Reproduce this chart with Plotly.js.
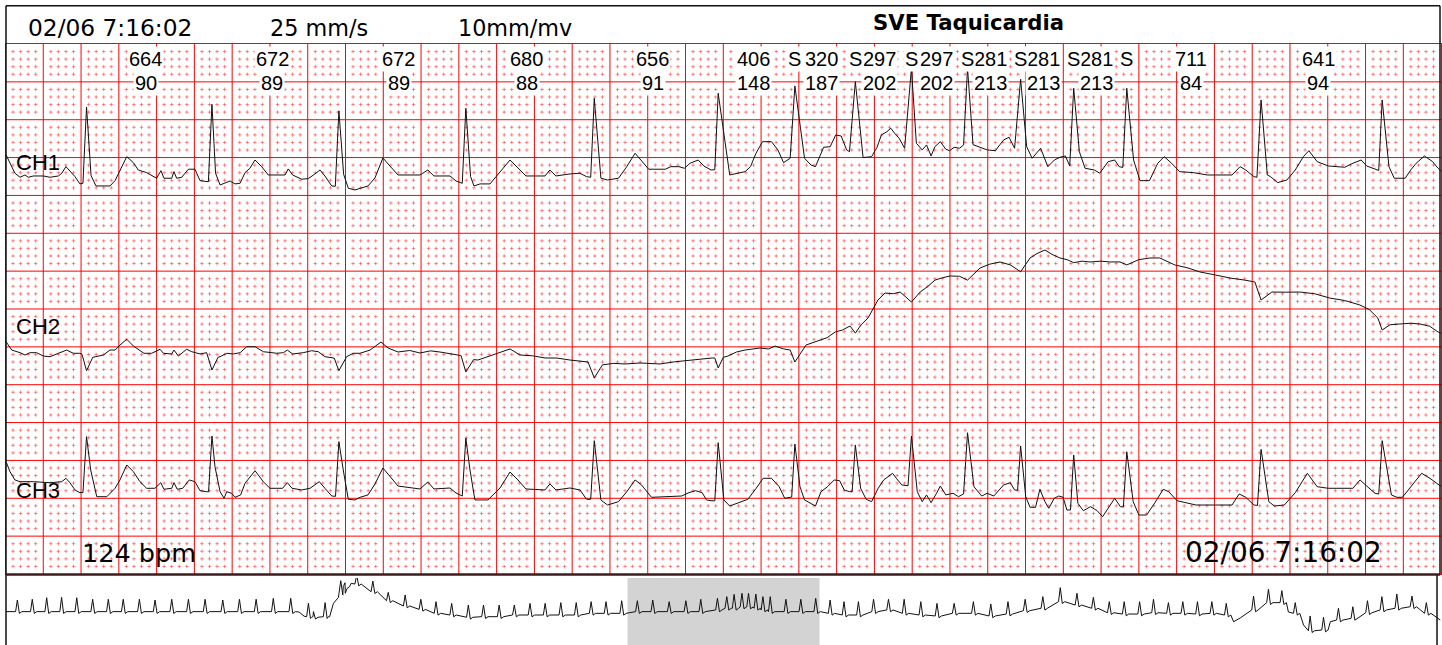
<!DOCTYPE html>
<html>
<head>
<meta charset="utf-8">
<script src="https://cdn.plot.ly/plotly-3.0.1.min.js"></script>
<style>
html,body{margin:0;padding:0;background:#fff;}
#chart{width:1442px;height:645px;}
</style>
</head>
<body>
<div id="chart"></div>
<script>
// ---- Recording header ----
const stampText = '02/06 7:16:02';
const speedText = '25 mm/s';
const gainText = '10mm/mv';
const eventText = 'SVE Taquicardia';
const rateText = '124 bpm';
const channelNames = ['CH1', 'CH2', 'CH3'];

// ---- Beat sequence: first R wave (s), RR intervals (ms), heart rates (bpm), beat class ----
const firstBeat = 0.429;
const rrMs = [664, 672, 672, 680, 656, 406, 320, 297, 297, 281, 281, 281, 711, 641];
const hrBpm = [90, 89, 89, 88, 91, 148, 187, 202, 202, 213, 213, 213, 84, 94];
const beatClass = ['N', 'N', 'N', 'N', 'N', 'N', 'S', 'S', 'S', 'S', 'S', 'S', 'S', 'N', 'N'];

// ---- QRS peak per beat (mV) ----
const ch1R = [0.858, 0.894, 0.806, 0.841, 0.973, 1.039, 1.136, 1.193, 1.370, 1.370, 1.224, 1.106, 1.106, 0.951, 0.951];
const ch2R = [-0.247, -0.238, -0.247, -0.264, -0.343, -0.211, -0.132, 0.25, 0.66, 0.95, 1.06, 1.18, 1.15, 0.687, 0.291];
const ch3R = [0.678, 0.687, 0.612, 0.660, 0.625, 0.598, 0.581, 0.568, 0.687, 0.730, 0.555, 0.436, 0.479, 0.511, 0.625];

// ---- Waveform between QRS peaks: [time s, mV] ----
const ch1Wave = [
[0.003,0.225],[0.024,0.115],[0.050,-0.017],[0.077,-0.070],[0.103,-0.040],[0.121,-0.070],[0.147,-0.053],[0.200,-0.053],[0.236,-0.070],[0.280,-0.053],[0.298,-0.017],[0.320,0.070],[0.341,0.017],[0.368,-0.062],[0.394,-0.158],[0.410,-0.150],
[0.453,-0.050],[0.479,-0.185],[0.553,-0.185],[0.580,-0.115],[0.606,0.026],[0.642,0.202],[0.677,0.123],[0.703,0.026],[0.747,-0.009],[0.800,-0.083],[0.823,0.017],[0.839,-0.083],[0.880,-0.083],[0.892,0.004],[0.906,-0.083],[0.933,-0.070],[0.968,0.036],[1.003,0.036],[1.030,-0.115],[1.061,-0.128],[1.074,-0.130],
[1.112,-0.017],[1.136,-0.172],[1.162,-0.149],[1.189,-0.119],[1.215,-0.158],[1.242,-0.149],[1.268,-0.009],[1.294,0.049],[1.321,0.158],[1.356,0.070],[1.391,-0.040],[1.480,-0.040],[1.497,0.040],[1.520,-0.040],[1.568,-0.096],[1.603,-0.088],[1.638,-0.026],[1.665,0.026],[1.691,-0.053],[1.727,-0.185],[1.746,-0.190],
[1.790,-0.030],[1.815,-0.215],[1.850,-0.238],[1.877,-0.215],[1.919,-0.185],[1.956,-0.079],[1.998,0.185],[2.035,0.079],[2.078,-0.040],[2.194,-0.040],[2.236,0.026],[2.268,-0.053],[2.353,-0.053],[2.385,-0.119],[2.418,-0.150],
[2.462,-0.060],[2.480,-0.185],[2.512,-0.158],[2.565,-0.158],[2.618,0.000],[2.671,0.158],[2.713,0.053],[2.755,-0.053],[2.856,-0.053],[2.882,0.026],[2.914,-0.053],[2.988,-0.026],[3.041,-0.017],[3.076,-0.062],[3.098,-0.070],
[3.152,-0.083],[3.187,-0.106],[3.245,-0.083],[3.289,0.070],[3.333,0.247],[3.362,0.158],[3.405,0.036],[3.493,0.036],[3.522,0.070],[3.565,0.070],[3.594,0.049],[3.624,0.115],[3.667,0.158],[3.697,0.079],[3.735,0.026],[3.755,0.030],
[3.834,-0.040],[3.886,-0.009],[3.915,0.004],[3.944,0.070],[3.973,0.247],[4.008,0.400],[4.055,0.400],[4.089,0.291],[4.119,0.123],[4.154,0.181],
[4.230,0.181],[4.264,0.092],[4.288,0.070],[4.308,0.202],[4.331,0.326],[4.366,0.334],[4.395,0.489],[4.424,0.475],[4.453,0.291],[4.468,0.268],
[4.540,0.190],[4.585,0.202],[4.614,0.326],[4.637,0.489],[4.666,0.532],[4.687,0.577],[4.707,0.511],[4.731,0.445],[4.760,0.313],
[4.822,0.380],[4.853,0.291],[4.876,0.357],[4.900,0.211],[4.920,0.334],[4.949,0.400],[4.978,0.300],[4.998,0.281],[5.022,0.326],[5.051,0.313],[5.072,0.357],
[5.122,0.360],[5.151,0.330],[5.197,0.291],[5.240,0.281],[5.284,0.423],[5.313,0.458],[5.342,0.313],
[5.406,0.334],[5.435,0.181],[5.480,0.313],[5.518,0.070],[5.553,0.158],[5.582,0.194],[5.611,0.211],[5.634,0.079],
[5.685,0.268],[5.715,0.049],[5.764,0.026],[5.793,-0.017],[5.837,0.136],[5.872,0.158],[5.896,0.070],[5.915,0.060],
[5.972,0.158],[6.006,-0.115],[6.056,-0.115],[6.100,0.115],[6.134,0.202],[6.173,0.115],[6.216,0.004],[6.289,-0.009],[6.362,-0.040],[6.493,-0.040],[6.536,0.070],[6.566,0.026],[6.609,-0.062],[6.625,-0.070],
[6.680,-0.040],[6.697,-0.062],[6.735,-0.141],[6.784,-0.106],[6.828,0.026],[6.871,0.202],[6.900,0.281],[6.944,0.136],[7.003,0.079],[7.090,0.062],[7.133,0.115],[7.177,0.158],[7.206,0.079],[7.258,0.026],[7.270,0.020],
[7.324,0.070],[7.352,-0.083],[7.410,-0.083],[7.439,0.026],[7.468,0.115],[7.512,0.211],[7.555,0.136],[7.584,0.049],[7.600,0.010]
];

const ch2Wave = [
[0.003,0.136],[0.033,0.026],[0.077,-0.009],[0.103,-0.040],[0.130,-0.009],[0.165,-0.009],[0.200,-0.053],[0.236,-0.062],[0.280,-0.017],[0.324,0.026],[0.359,-0.017],[0.394,-0.017],[0.405,-0.030],
[0.462,-0.070],[0.474,-0.062],[0.518,-0.040],[0.553,0.026],[0.580,0.026],[0.606,0.092],[0.642,0.168],[0.677,0.079],[0.712,0.026],[0.733,-0.017],[0.774,-0.017],[0.818,0.036],[0.836,-0.017],[0.880,-0.026],[0.892,0.026],[0.915,-0.053],[0.959,0.036],[0.986,0.004],[1.030,-0.026],[1.065,-0.009],
[1.125,-0.070],[1.136,-0.062],[1.171,-0.017],[1.206,-0.026],[1.242,-0.009],[1.277,0.070],[1.321,0.070],[1.365,0.004],[1.436,-0.017],[1.471,-0.009],[1.492,0.026],[1.520,-0.026],[1.576,-0.009],[1.621,0.017],[1.656,0.004],[1.691,-0.062],[1.727,-0.070],[1.740,-0.080],
[1.806,-0.062],[1.841,-0.017],[1.877,-0.017],[1.930,0.026],[1.962,0.079],[1.988,0.132],[2.025,0.053],[2.078,0.000],[2.140,0.020],[2.194,-0.013],[2.250,0.015],[2.300,0.000],[2.395,-0.040],[2.412,-0.050],
[2.478,-0.100],[2.501,-0.106],[2.565,-0.053],[2.634,0.000],[2.671,0.040],[2.724,-0.040],[2.790,-0.050],[2.856,-0.079],[2.920,-0.080],[2.988,-0.106],[3.084,-0.132],
[3.160,-0.170],[3.220,-0.150],[3.280,-0.158],[3.359,-0.145],[3.420,-0.150],[3.465,-0.158],[3.540,-0.130],[3.624,-0.106],[3.690,-0.090],[3.741,-0.079],[3.755,-0.080],
[3.800,-0.070],[3.825,-0.053],[3.870,0.000],[3.915,0.026],[3.995,0.053],[4.040,0.040],[4.074,0.079],[4.120,0.040],[4.154,0.026],
[4.238,0.092],[4.280,0.130],[4.312,0.158],[4.350,0.190],[4.392,0.264],[4.430,0.290],[4.471,0.343],
[4.530,0.360],[4.566,0.449],[4.619,0.687],[4.656,0.779],[4.700,0.770],[4.736,0.792],
[4.842,0.792],[4.880,0.860],[4.921,0.951],[4.960,0.980],[5.000,1.004],[5.050,1.000],
[5.159,1.109],[5.210,1.160],[5.265,1.189],[5.320,1.150],
[5.424,1.242],[5.460,1.300],[5.503,1.347],[5.540,1.290],[5.582,1.242],[5.620,1.220],
[5.700,1.200],[5.741,1.189],[5.800,1.200],[5.847,1.189],[5.900,1.190],
[6.000,1.220],[6.059,1.242],[6.111,1.242],[6.191,1.149],[6.260,1.110],[6.323,1.057],[6.400,1.020],[6.482,0.977],[6.560,0.950],[6.614,0.925],
[6.704,0.792],[6.780,0.790],[6.852,0.792],[6.930,0.770],[7.010,0.713],[7.090,0.680],[7.170,0.621],[7.220,0.560],[7.265,0.449],
[7.330,0.360],[7.382,0.370],[7.440,0.380],[7.488,0.370],[7.540,0.340],[7.584,0.264],[7.600,0.250]
];

const ch3Wave = [
[0.003,0.347],[0.024,0.215],[0.050,0.106],[0.077,0.083],[0.147,0.083],[0.236,0.070],[0.298,0.083],[0.320,0.128],[0.341,0.070],[0.368,-0.026],[0.394,-0.062],[0.410,-0.060],
[0.451,0.238],[0.483,-0.115],[0.536,-0.115],[0.580,-0.004],[0.606,0.106],[0.642,0.304],[0.677,0.215],[0.712,0.083],[0.747,-0.004],[0.791,-0.004],[0.822,0.070],[0.839,-0.017],[0.880,-0.004],[0.892,0.070],[0.909,-0.017],[0.938,-0.004],[0.973,0.106],[1.003,0.083],[1.030,-0.036],[1.065,-0.049],[1.075,-0.050],
[1.109,0.281],[1.136,-0.049],[1.157,-0.136],[1.171,-0.049],[1.197,-0.070],[1.215,-0.123],[1.245,-0.092],[1.268,0.062],[1.321,0.228],[1.365,0.083],[1.400,-0.004],[1.467,-0.004],[1.492,0.070],[1.517,-0.004],[1.568,-0.026],[1.612,-0.004],[1.661,0.083],[1.691,-0.004],[1.727,-0.106],[1.747,-0.110],
[1.788,0.238],[1.815,-0.149],[1.850,-0.158],[1.877,-0.123],[1.919,-0.092],[1.956,0.053],[1.998,0.264],[2.035,0.158],[2.078,0.026],[2.194,-0.013],[2.236,0.079],[2.268,-0.013],[2.353,0.000],[2.385,-0.066],[2.418,-0.106],
[2.459,0.238],[2.485,-0.158],[2.554,-0.158],[2.618,0.000],[2.671,0.211],[2.713,0.106],[2.755,-0.013],[2.856,-0.026],[2.882,0.053],[2.914,-0.026],[2.988,0.000],[3.041,-0.026],[3.076,-0.149],[3.098,-0.150],
[3.152,-0.158],[3.187,-0.225],[3.245,-0.181],[3.289,-0.049],[3.333,0.106],[3.367,0.040],[3.420,-0.123],[3.507,-0.115],[3.580,-0.106],[3.618,-0.062],[3.653,-0.036],[3.688,-0.062],[3.711,-0.158],[3.735,-0.168],[3.755,-0.170],
[3.803,-0.158],[3.834,-0.238],[3.886,-0.194],[3.930,-0.149],[3.974,-0.004],[4.011,0.128],[4.055,0.128],[4.096,0.017],[4.125,-0.136],[4.148,-0.123],[4.162,-0.120],
[4.206,0.017],[4.230,-0.158],[4.265,-0.202],[4.288,-0.238],[4.317,-0.049],[4.352,0.017],[4.387,0.106],[4.416,0.096],[4.440,-0.026],[4.468,-0.049],[4.482,-0.050],
[4.527,-0.004],[4.556,-0.149],[4.585,-0.181],[4.620,-0.004],[4.649,0.106],[4.672,0.149],[4.696,0.194],[4.716,0.128],[4.745,0.040],[4.778,0.030],
[4.827,-0.049],[4.853,-0.181],[4.876,-0.092],[4.900,-0.194],[4.929,-0.070],[4.949,0.026],[4.978,-0.092],[5.016,-0.070],[5.045,-0.115],[5.072,-0.079],
[5.127,0.017],[5.168,-0.106],[5.197,-0.070],[5.232,-0.106],[5.284,0.040],[5.319,0.070],[5.342,-0.026],[5.358,-0.030],
[5.401,-0.115],[5.424,-0.255],[5.453,-0.255],[5.476,-0.017],[5.503,-0.181],[5.523,-0.268],[5.552,-0.136],[5.576,-0.106],[5.599,-0.123],[5.619,-0.291],[5.638,-0.290],
[5.677,-0.202],[5.706,-0.300],[5.744,-0.247],[5.779,-0.300],[5.808,-0.379],[5.843,-0.247],[5.872,-0.136],[5.902,-0.247],[5.918,-0.250],
[5.970,-0.181],[6.000,-0.357],[6.041,-0.357],[6.085,-0.194],[6.129,-0.017],[6.158,-0.049],[6.202,-0.168],[6.303,-0.225],[6.493,-0.225],[6.531,-0.079],[6.566,-0.123],[6.609,-0.225],[6.628,-0.230],
[6.688,-0.181],[6.717,-0.238],[6.770,-0.225],[6.828,-0.062],[6.892,0.194],[6.944,0.017],[7.003,-0.004],[7.133,-0.004],[7.171,0.106],[7.206,0.026],[7.250,-0.070],[7.270,-0.080],
[7.337,-0.092],[7.366,-0.123],[7.395,-0.123],[7.439,0.017],[7.497,0.194],[7.541,0.128],[7.584,0.040],[7.600,0.020]
];

// ---- Full-length trend strip: beats [time s, baseline mV, peak mV] and extra baseline points ----
const ovBeats = [
[0.45,0.03,1.00],[1.04,0.03,1.06],[1.61,0.03,1.19],[2.20,0.03,1.22],[2.80,0.03,1.19],[3.43,0.03,1.06],[4.05,0.03,1.06],[4.64,0.03,1.06],[5.28,0.03,1.06],[5.90,0.03,1.00],
[6.56,0.03,1.06],[7.22,0.03,1.06],[7.88,0.03,1.06],[8.58,0.03,1.00],[9.24,0.03,1.06],[9.90,0.03,1.06],[10.58,0.03,1.14],[11.27,0.03,1.14],[11.97,-0.39,0.73],[12.17,-0.44,0.03],
[12.63,-0.39,0.78],[13.25,1.56,2.61],[13.42,2.11,2.44],[13.88,2.33,3.08],[14.52,1.69,2.58],[15.13,0.94,1.64],[15.80,0.50,1.42],[16.42,0.22,1.06],[17.02,-0.11,0.86],[17.64,-0.25,0.72],
[18.30,-0.44,0.58],[18.90,-0.39,0.58],[19.52,-0.39,0.58],[20.12,-0.25,0.58],[20.74,-0.25,0.72],[21.34,-0.25,0.72],[21.96,-0.25,0.78],[22.57,-0.25,0.78],[23.16,-0.11,0.86],[23.75,-0.11,0.86],
[24.37,-0.11,0.94],[24.99,0.03,0.94],[25.60,0.03,1.00],[26.25,0.03,0.86],[26.91,0.03,0.94],[27.50,0.03,1.06],[28.16,0.17,1.14],[28.53,0.31,1.28],[28.82,0.31,1.47],[29.13,0.42,1.56],
[29.39,0.42,1.56],[29.68,0.31,1.50],[29.96,0.17,1.28],[30.25,0.03,1.28],[30.87,0.03,1.06],[31.46,0.03,1.06],[32.05,0.03,1.14],[32.62,-0.11,1.00],[33.17,-0.25,0.86],[33.74,-0.25,0.86],
[34.34,0.03,1.06],[34.93,0.17,1.06],[35.55,-0.11,1.06],[36.21,-0.25,0.86],[36.85,-0.33,0.72],[37.53,-0.11,0.72],[38.29,-0.11,0.86],[38.98,-0.33,0.67],[39.66,-0.17,0.86],[40.34,0.11,1.06],
[41.04,0.31,1.28],[41.73,0.86,2.03],[42.39,0.58,1.56],[43.04,0.31,1.22],[43.67,-0.06,0.86],[44.26,-0.17,0.86],[44.87,-0.17,0.86],[45.42,-0.06,1.06],[46.01,-0.11,0.78],[46.58,-0.11,0.86],
[47.16,-0.17,0.86],[47.73,-0.11,0.86],[48.30,-0.25,0.72],[49.38,0.17,1.33],[49.97,0.78,1.89],[50.50,0.78,1.78],[51.03,-0.11,0.78],[51.62,-1.56,-0.33],[52.15,-1.50,-0.44],[52.74,-0.67,0.31],
[53.31,-0.53,0.44],[53.89,-0.06,0.94],[54.46,0.17,1.28],[55.05,0.31,1.50],[55.65,0.44,1.33],[56.22,-0.11,0.78]
];
const ovWander = [
[0.00,0.03],[11.60,0.00],[11.80,-0.35],[12.76,-0.39],[12.96,0.72],[13.16,1.22],[13.66,2.39],
[48.59,-0.81],[48.85,-0.50],[50.76,0.00],[51.36,-1.08],[52.42,-0.81],[56.77,-0.67]
];
const windowStart = 24.6;   // s on the trend strip where the 7.6 s page begins

// ---------------------------------------------------------------
const W = 1442, H = 645;
const px = v => v / W;          // pixel column -> paper x
const py = v => 1 - v / H;      // pixel row -> paper y
const pageSeconds = 7.6;        // 38 large boxes of 0.2 s
const pageMv = 7.0;             // 14 large boxes of 0.5 mV

const beatTimes = [firstBeat];
rrMs.forEach(r => beatTimes.push(beatTimes[beatTimes.length - 1] + r / 1000));

function lead(wave, peaks) {
  const pts = wave.map(p => [p[0], p[1]]);
  beatTimes.forEach((t, i) => pts.push([t, peaks[i]]));
  pts.sort((a, b) => a[0] - b[0]);
  return { x: pts.map(p => p[0]), y: pts.map(p => p[1]) };
}

function trendStrip() {
  const pts = ovWander.map(p => [p[0], p[1]]);
  ovBeats.forEach(b => {
    pts.push([b[0] - 0.07, b[1]]);
    pts.push([b[0], b[2]]);
    pts.push([b[0] + 0.08, b[1] - 0.15]);
    pts.push([b[0] + 0.18, b[1]]);
  });
  pts.sort((a, b) => a[0] - b[0]);
  return { x: pts.map(p => p[0]), y: pts.map(p => p[1]) };
}

// small-box dots (1 mm = 0.04 s x 0.1 mV), skipping the large-box lines
const dotX = [], dotY = [];
for (let i = 0; i <= 190; i++) {
  if (i % 5 === 0) continue;
  for (let j = 0; j <= 70; j++) {
    if (j % 5 === 0) continue;
    dotX.push(i * 0.04);
    dotY.push(j * 0.1);
  }
}

const ink = '#111111';
const gridRed = '#ff0000';
const l1 = lead(ch1Wave, ch1R), l2 = lead(ch2Wave, ch2R), l3 = lead(ch3Wave, ch3R);
const ov = trendStrip();

const traces = [
  { type: 'scatter', mode: 'markers', x: dotX, y: dotY, xaxis: 'x', yaxis: 'y', hoverinfo: 'skip',
    marker: { symbol: 'cross-thin', size: 2.6, color: 'rgba(255,30,30,0.5)', line: { width: 1, color: 'rgba(255,30,30,0.5)' } } },
  { type: 'scatter', mode: 'lines', x: l1.x, y: l1.y, xaxis: 'x', yaxis: 'y2', line: { color: ink, width: 1 }, hoverinfo: 'skip' },
  { type: 'scatter', mode: 'lines', x: l2.x, y: l2.y, xaxis: 'x', yaxis: 'y3', line: { color: ink, width: 1 }, hoverinfo: 'skip' },
  { type: 'scatter', mode: 'lines', x: l3.x, y: l3.y, xaxis: 'x', yaxis: 'y4', line: { color: ink, width: 1 }, hoverinfo: 'skip' },
  { type: 'scatter', mode: 'lines', x: ov.x, y: ov.y, xaxis: 'x2', yaxis: 'y5', line: { color: ink, width: 1 }, hoverinfo: 'skip' }
];

// baseline height of each channel above the bottom grid line (mV)
const baseCH1 = 5.31, baseCH2 = 2.932, baseCH3 = 1.136;
const gridDomainY = [py(574), py(44)];
const overlayAxis = base => ({ overlaying: 'y', range: [-base, pageMv - base], visible: false, showgrid: false, zeroline: false, fixedrange: true });

const labelFont = { family: 'Liberation Sans, Arial, sans-serif', size: 20, color: '#000' };
const annotations = [];
for (let i = 0; i < rrMs.length; i++) {
  const mid = (beatTimes[i] + beatTimes[i + 1]) / 2 - 0.018;
  annotations.push({ x: mid, xref: 'x', y: py(59.5), yref: 'paper', text: String(rrMs[i]), showarrow: false,
    font: labelFont, bgcolor: '#ffffff', borderpad: 1, xanchor: 'center', yanchor: 'middle' });
  annotations.push({ x: mid, xref: 'x', y: py(82.5), yref: 'paper', text: String(hrBpm[i]), showarrow: false,
    font: labelFont, bgcolor: '#ffffff', borderpad: 1, xanchor: 'center', yanchor: 'middle' });
}
beatTimes.forEach((t, i) => {
  if (beatClass[i] === 'S') {
    annotations.push({ x: t, xref: 'x', y: py(59.5), yref: 'paper', text: 'S', showarrow: false,
      font: labelFont, bgcolor: '#ffffff', borderpad: 1, xanchor: 'center', yanchor: 'middle' });
  }
});

const dv = 'DejaVu Sans, Verdana, sans-serif';
const chFont = { family: 'Liberation Sans, Arial, sans-serif', size: 22, color: '#000' };
annotations.push(
  { x: px(26), y: py(27.6), xref: 'paper', yref: 'paper', text: stampText, showarrow: false, xanchor: 'left', yanchor: 'middle', font: { family: dv, size: 23.3, color: '#000' } },
  { x: px(268), y: py(27.6), xref: 'paper', yref: 'paper', text: speedText, showarrow: false, xanchor: 'left', yanchor: 'middle', font: { family: dv, size: 22.3, color: '#000' } },
  { x: px(456), y: py(27.6), xref: 'paper', yref: 'paper', text: gainText, showarrow: false, xanchor: 'left', yanchor: 'middle', font: { family: dv, size: 22.3, color: '#000' } },
  { x: px(968), y: py(22.5), xref: 'paper', yref: 'paper', text: '<b>' + eventText + '</b>', showarrow: false, xanchor: 'center', yanchor: 'middle', font: { family: dv, size: 21.2, color: '#000' } },
  { x: px(14), y: py(162), xref: 'paper', yref: 'paper', text: channelNames[0], showarrow: false, xanchor: 'left', yanchor: 'middle', font: chFont },
  { x: px(14), y: py(326.7), xref: 'paper', yref: 'paper', text: channelNames[1], showarrow: false, xanchor: 'left', yanchor: 'middle', font: chFont },
  { x: px(14), y: py(490.8), xref: 'paper', yref: 'paper', text: channelNames[2], showarrow: false, xanchor: 'left', yanchor: 'middle', font: chFont },
  { x: px(80), y: py(553), xref: 'paper', yref: 'paper', text: rateText, showarrow: false, xanchor: 'left', yanchor: 'middle', font: { family: dv, size: 25.5, color: '#000' } },
  { x: px(1183), y: py(552.5), xref: 'paper', yref: 'paper', text: stampText, showarrow: false, xanchor: 'left', yanchor: 'middle', font: { family: dv, size: 27.9, color: '#000' } }
);

const frame = '#111111';
const shapes = [
  { type: 'rect', xref: 'x2', yref: 'paper', x0: windowStart, x1: windowStart + pageSeconds, y0: 0, y1: py(578),
    fillcolor: '#d3d3d3', line: { width: 0 }, layer: 'below' }
];
// large-box grid lines (0.2 s, 0.5 mV)
for (let k = 1; k < 38; k++) {
  shapes.push({ type: 'line', xref: 'x', yref: 'y', x0: k * 0.2, x1: k * 0.2, y0: 0, y1: pageMv, layer: 'below', line: { color: gridRed, width: 1 } });
}
for (let k = 1; k < 14; k++) {
  shapes.push({ type: 'line', xref: 'x', yref: 'y', x0: 0, x1: pageSeconds, y0: k * 0.5, y1: k * 0.5, layer: 'below', line: { color: gridRed, width: 1 } });
}
shapes.push(
  { type: 'line', xref: 'paper', yref: 'paper', x0: px(6), x1: px(1440), y0: py(5.7), y1: py(5.7), line: { color: frame, width: 1.5 } },
  { type: 'line', xref: 'paper', yref: 'paper', x0: px(6), x1: px(6), y0: py(5.7), y1: 0, line: { color: frame, width: 1.5 } },
  { type: 'line', xref: 'paper', yref: 'paper', x0: px(1440), x1: px(1440), y0: py(5.7), y1: py(574), line: { color: frame, width: 1.5 } },
  { type: 'line', xref: 'paper', yref: 'paper', x0: px(1437), x1: px(1437), y0: py(574), y1: 0, line: { color: frame, width: 1.5 } },
  { type: 'line', xref: 'paper', yref: 'paper', x0: px(6), x1: px(1440), y0: py(574.5), y1: py(574.5), line: { color: '#3b1c1c', width: 2.5 } }
);

const layout = {
  width: W, height: H,
  margin: { l: 0, r: 0, t: 0, b: 0, pad: 0 },
  paper_bgcolor: '#ffffff', plot_bgcolor: '#ffffff',
  showlegend: false,
  xaxis: { domain: [px(5.5), px(1441.1)], range: [0, pageSeconds], showgrid: false, zeroline: false,
    showticklabels: false, ticks: '', showline: true, linecolor: gridRed, linewidth: 1, mirror: true, fixedrange: true, anchor: 'y' },
  yaxis: { domain: gridDomainY, range: [0, pageMv], showgrid: false, zeroline: false,
    showticklabels: false, ticks: '', showline: true, linecolor: gridRed, linewidth: 1, mirror: true, fixedrange: true, anchor: 'x' },
  yaxis2: overlayAxis(baseCH1),
  yaxis3: overlayAxis(baseCH2),
  yaxis4: overlayAxis(baseCH3),
  xaxis2: { domain: [px(6), px(1441)], range: [0, 56.8], visible: false, fixedrange: true, anchor: 'y5' },
  yaxis5: { domain: [0, py(578)], range: [-2.75, 2.833], visible: false, fixedrange: true, anchor: 'x2' },
  annotations: annotations,
  shapes: shapes
};

Plotly.newPlot('chart', traces, layout, { staticPlot: true, displayModeBar: false });
</script>
</body>
</html>
